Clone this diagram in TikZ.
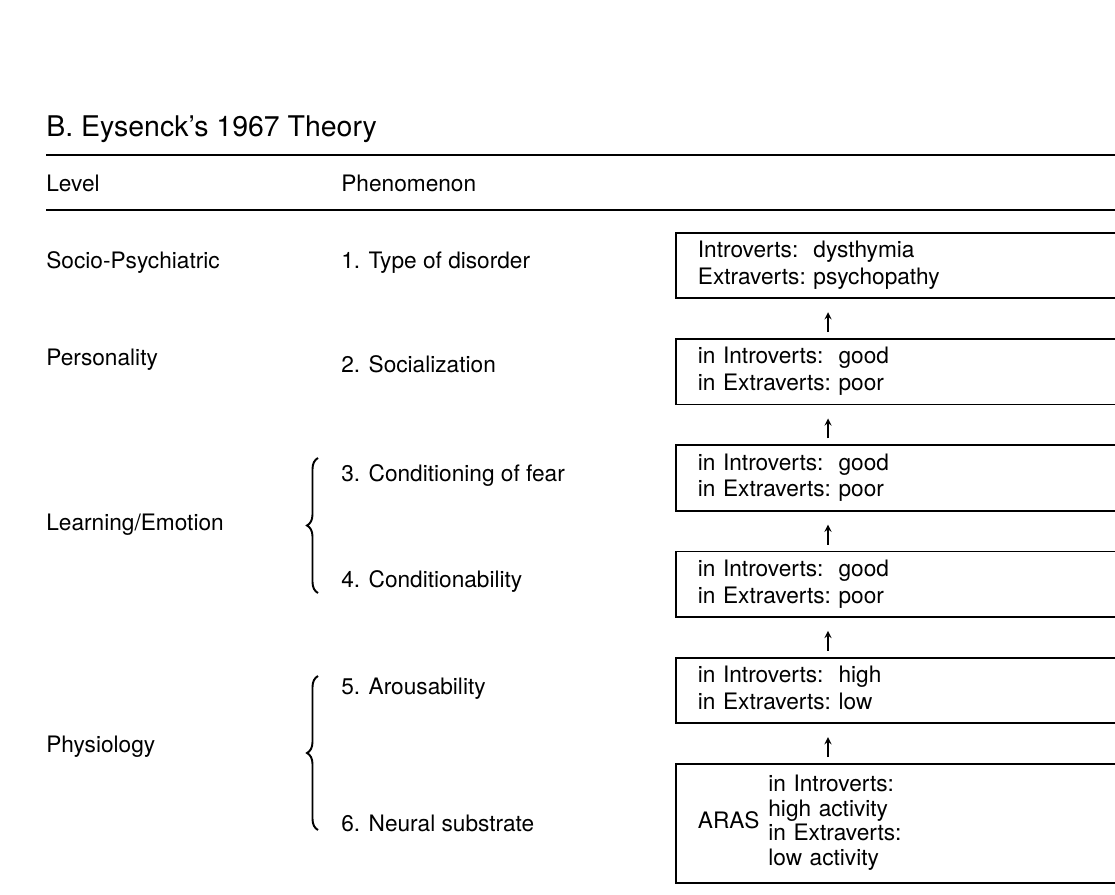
\documentclass[tikz,border=0pt]{standalone}
\usepackage{fontspec}
\setmainfont{TeX Gyre Heros}
\usetikzlibrary{arrows, positioning, decorations.pathreplacing}
\newcommand{\introextra}[4]{\begin{tabular}{@{}l@{\ }l@{}}#1 & #2\\#3 & #4\end{tabular}}
\tikzstyle{outcome} = [rectangle, draw=black, line width=1pt, minimum width=9cm, minimum height=1.31cm, text width=8.12cm, inner xsep=0.44cm, inner ysep=0pt, align=left, font=\fontsize{12.9}{15.3}\selectfont]
\tikzstyle{lvltext} = [anchor=base west, inner sep=0pt, font=\fontsize{12.9}{15}\selectfont]
\tikzstyle{arrow} = [thick,->,>=stealth, shorten >=0.26cm, shorten <=0.12cm]
\tikzstyle{rule} = [line width=1.2pt]
\tikzstyle{bracket} = [line width=1.1pt, decorate, decoration={brace, amplitude=0.22cm}]

\begin{document}
\begin{tikzpicture}[x=0.02cm, y=-0.02cm, node distance=0.78cm]
    \useasboundingbox (0,0) rectangle (1115,895);
    \clip (0,0) rectangle (1115,895);
    % heading
    \node (title) [lvltext, font=\fontsize{16.2}{19}\selectfont] at (46,137) {B. Eysenck's 1967 Theory};
    \draw [rule] (46,155) -- (1115,155);
    \node (level) [lvltext] at (46,192) {Level};
    \node (phen) [lvltext] at (341,192) {Phenomenon};
    \draw [rule] (46,210) -- (1115,210);
    % levels
    \node (socio) [lvltext] at (46,268) {Socio-Psychiatric};
    \node (pers) [lvltext] at (46,365) {Personality};
    \node (learn) [lvltext] at (46,530) {Learning/Emotion};
    \node (phys) [lvltext] at (46,752) {Physiology};
    % phenomena
    \node (p1) [lvltext] at (341,268) {1. Type of disorder};
    \node (p2) [lvltext] at (341,372) {2. Socialization};
    \node (p3) [lvltext] at (341,481) {3. Conditioning of fear};
    \node (p4) [lvltext] at (341,587) {4. Conditionability};
    \node (p5) [lvltext] at (341,694) {5. Arousability};
    \node (p6) [lvltext] at (341,831) {6. Neural substrate};
    \draw [bracket] (318,593) -- (318,458);
    \draw [bracket] (318,830) -- (318,676);
    % findings
    \node (b1) [outcome, anchor=north west] at (675,232) {\introextra{Introverts:}{dysthymia}{Extraverts:}{psychopathy}};
    \node (b2) [outcome, below=of b1] {\introextra{in Introverts:}{good}{in Extraverts:}{poor}};
    \node (b3) [outcome, below=of b2] {\introextra{in Introverts:}{good}{in Extraverts:}{poor}};
    \node (b4) [outcome, below=of b3] {\introextra{in Introverts:}{good}{in Extraverts:}{poor}};
    \node (b5) [outcome, below=of b4] {\introextra{in Introverts:}{high}{in Extraverts:}{low}};
    \node (b6) [outcome, below=of b5, minimum height=2.38cm, font=\fontsize{12.9}{14}\selectfont] {ARAS\hspace{5pt}\begin{tabular}{@{}l@{}}in Introverts:\\high activity\\in Extraverts:\\low activity\end{tabular}};
    \coordinate (ax) at (828,0);
    \foreach \lo/\hi in {b2/b1, b3/b2, b4/b3, b5/b4, b6/b5}
        \draw [arrow] (\lo.north -| ax) -- (\hi.south -| ax);
\end{tikzpicture}
\end{document}
